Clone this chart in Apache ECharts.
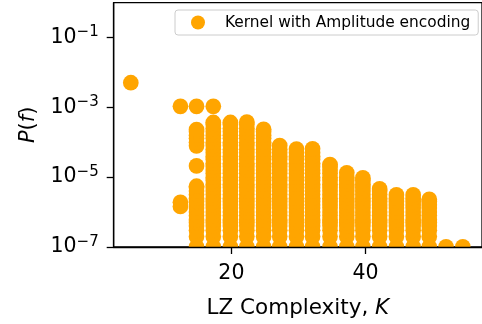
<!DOCTYPE html>
<html>
<head>
<meta charset="utf-8">
<script src="https://cdn.jsdelivr.net/npm/echarts@6/dist/echarts.min.js"></script>
<style>
html, body { margin: 0; padding: 0; background: #fff; }
#main { width: 482px; height: 324px; }
</style>
</head>
<body>
<div id="main"></div>
<script>
var FONT = 'DejaVu Sans';
var SERIES_NAME = 'Kernel with Amplitude encoding';
var X_TICKS = [20, 40];
var Y_TICKS = [1e-7, 1e-5, 1e-3, 1e-1];

// probability levels that fill each column between its ends
var LEVELS = [1e-7, 2e-7, 3e-7, 4e-7, 5e-7, 6e-7, 8e-7, 1e-6, 1.3e-6, 1.6e-6, 2e-6, 2.5e-6,
    3.2e-6, 4e-6, 5e-6, 6.3e-6, 8e-6, 1e-5, 1.3e-5, 1.6e-5, 2e-5, 2.5e-5, 3.2e-5, 4e-5,
    5e-5, 6.3e-5, 8e-5, 1e-4, 1.3e-4, 1.6e-4, 2e-4, 2.5e-4, 3.2e-4];

// lone points
var SINGLE_X = [5, 12.4, 14.8, 17.3, 12.4, 12.4];
var SINGLE_P = [5.1e-3, 1.07e-3, 1.07e-3, 1.07e-3, 1.9e-6, 1.45e-6];

// columns: x and their runs [low, high]
var COLUMN_X = [14.8, 17.3, 19.85, 22.3, 24.8, 27.2, 29.7, 32.1, 34.7, 37.2, 39.6, 42.1, 44.6, 47.1, 49.5, 52.0, 54.5];
var COLUMN_RUNS = [
    [[1e-7, 5.5e-6], [2.1e-5, 2.1e-5], [7.9e-5, 2.3e-4]],
    [[1e-7, 3.7e-4]],
    [[1e-7, 3.7e-4]],
    [[1e-7, 3.8e-4]],
    [[1e-7, 2.35e-4]],
    [[1e-7, 8.0e-5]],
    [[1e-7, 6.4e-5]],
    [[1e-7, 6.5e-5]],
    [[1e-7, 2.3e-5]],
    [[1e-7, 1.33e-5]],
    [[1e-7, 9.5e-6]],
    [[1e-7, 4.6e-6]],
    [[1e-7, 3.1e-6]],
    [[1e-7, 3.1e-6]],
    [[1e-7, 2.3e-6]],
    [[1e-7, 1e-7]],
    [[1e-7, 1e-7]]
];

var points = [];
for (var i = 0; i < SINGLE_X.length; i++) {
    points.push([SINGLE_X[i], SINGLE_P[i]]);
}
COLUMN_X.forEach(function (x, c) {
    COLUMN_RUNS[c].forEach(function (run) {
        points.push([x, run[0]]);
        LEVELS.forEach(function (v) {
            if (v > run[0] * 1.05 && v < run[1] * 0.95) points.push([x, v]);
        });
        if (run[1] !== run[0]) points.push([x, run[1]]);
    });
});

function powLabel(v) {
    var e = Math.round(Math.log10(v));
    return '{b|10}{s|' + (e < 0 ? '\u2212' : '') + Math.abs(e) + '}';
}

var chartDom = document.getElementById('main');
var myChart = echarts.init(chartDom, null, { width: 482, height: 324 });
var option = {
    animation: false,
    grid: {
        left: 113.7,
        top: 2.7,
        right: -4,
        bottom: 76.7,
        show: true,
        borderColor: '#000',
        borderWidth: 1.3
    },
    legend: {
        left: 175,
        top: 10,
        data: [SERIES_NAME],
        icon: 'circle',
        itemWidth: 14,
        itemHeight: 14,
        padding: [5, 8, 5, 16],
        borderColor: '#cccccc',
        borderWidth: 1,
        borderRadius: 3,
        backgroundColor: 'rgba(255,255,255,0.8)',
        textStyle: { fontFamily: FONT, fontSize: 15.4, color: '#000', padding: [0, 0, 0, 15] }
    },
    graphic: [{
        type: 'rect',
        z: 5,
        shape: { x: 0, y: 247.8, width: 482, height: 80 },
        style: { fill: '#fff' }
    }],
    xAxis: {
        type: 'value',
        min: 2.45,
        max: 57.36,
        z: 10,
        name: 'LZ Complexity, {i|K}',
        nameLocation: 'middle',
        nameGap: 50,
        nameTextStyle: {
            fontFamily: FONT, fontSize: 21.5, color: '#000',
            rich: { i: { fontFamily: FONT, fontSize: 21.5, fontStyle: 'italic', color: '#000' } }
        },
        axisLine: { show: true, lineStyle: { color: '#000', width: 1.3 } },
        axisTick: { show: true, length: 7, customValues: X_TICKS, lineStyle: { color: '#000', width: 1.3 } },
        axisLabel: { customValues: X_TICKS, fontFamily: FONT, fontSize: 20.5, color: '#000', margin: 16 },
        splitLine: { show: false }
    },
    yAxis: {
        type: 'log',
        min: 0.995e-7,
        max: 1,
        z: 10,
        name: '{i|P}({i|f})',
        nameLocation: 'middle',
        nameGap: 75,
        nameRotate: 90,
        nameTextStyle: {
            fontFamily: FONT, fontSize: 21, color: '#000',
            rich: { i: { fontFamily: FONT, fontSize: 21, fontStyle: 'italic', color: '#000' } }
        },
        axisLine: { show: true, lineStyle: { color: '#000', width: 1.3 } },
        axisTick: { show: true, length: 7, customValues: Y_TICKS, lineStyle: { color: '#000', width: 1.3 } },
        axisLabel: {
            customValues: Y_TICKS,
            formatter: powLabel,
            margin: 15,
            color: '#000',
            rich: {
                b: { fontFamily: FONT, fontSize: 20.5, color: '#000', lineHeight: 25 },
                s: { fontFamily: FONT, fontSize: 15, color: '#000', lineHeight: 15, verticalAlign: 'top' }
            }
        },
        splitLine: { show: false },
        minorTick: { show: false }
    },
    series: [{
        name: SERIES_NAME,
        type: 'scatter',
        symbol: 'circle',
        symbolSize: 15.7,
        itemStyle: { color: '#FFA500', opacity: 1 },
        data: points
    }]
};
option && myChart.setOption(option);
</script>
</body>
</html>
